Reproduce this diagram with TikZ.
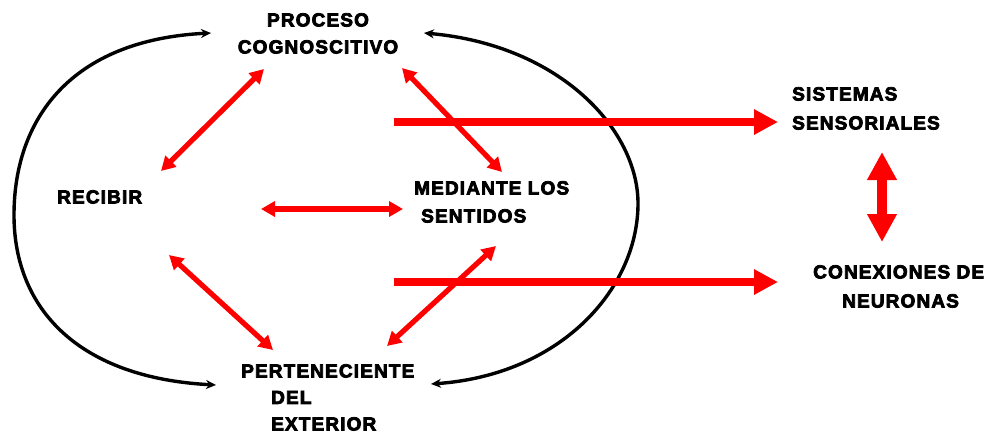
\documentclass[tikz,border=0pt]{standalone}
\usepackage{fontspec}
\newfontfamily\heavy{Liberation Sans Bold}[FakeBold=4,LetterSpace=6]
\usetikzlibrary{arrows.meta}
\definecolor{rojo}{RGB}{255,0,0}
\tikzset{
  lbl/.style={inner sep=0pt, font=\heavy\fontsize{19}{28}\selectfont, align=left, anchor=north west},
  arc/.style={line width=3.4pt, black, {Stealth[length=10pt,width=9pt]}-{Stealth[length=10pt,width=9pt]}},
  rel/.style={line width=5.2pt, rojo, {Triangle[length=14pt,width=15pt]}-{Triangle[length=14pt,width=15pt]}},
  big/.style={line width=7.5pt, rojo, -{Triangle[length=24pt,width=24pt]}},
  vert/.style={line width=10pt, rojo, {Triangle[length=28pt,width=28pt]}-{Triangle[length=28pt,width=28pt]}}
}
\begin{document}
\begin{tikzpicture}[x=1pt,y=-1pt]
\useasboundingbox (0,0) rectangle (998,434);
% text nodes
\node[lbl, align=center, anchor=north, font=\heavy\fontsize{19}{27}\selectfont] (proc) at (318,13) {PROCESO\\COGNOSCITIVO};
\node[lbl] (rec) at (57,190) {RECIBIR};
\node[lbl] (med) at (414,181) {MEDIANTE LOS\\\hspace*{7pt}SENTIDOS};
\node[lbl, font=\heavy\fontsize{19}{26.5}\selectfont] (pert) at (241,364) {PERTENECIENTE\\\hspace*{30pt}DEL\\\hspace*{30pt}EXTERIOR};
\node[lbl, font=\heavy\fontsize{19}{29}\selectfont] (sis) at (792,87) {SISTEMAS\\SENSORIALES};
\node[lbl, font=\heavy\fontsize{19}{29}\selectfont] (con) at (813,265) {CONEXIONES DE\\\hspace*{29pt}NEURONAS};
% connector end points
\coordinate (lt) at (211,33);
\coordinate (lb) at (216,385);
\coordinate (rt) at (424,33);
\coordinate (rb) at (431,384);
\coordinate (pr1) at (264,69);
\coordinate (rp1) at (161,171);
\coordinate (pm1) at (402,68);
\coordinate (mp1) at (502,172);
\coordinate (rm1) at (261,209);
\coordinate (mr1) at (403,209);
\coordinate (re1) at (169,255);
\coordinate (er1) at (273,350);
\coordinate (me1) at (496,246);
\coordinate (em1) at (387,346);
\coordinate (s1) at (394,122);
\coordinate (s2) at (778,122);
\coordinate (c1) at (394,282);
\coordinate (c2) at (778,282);
\coordinate (v1) at (882,152);
\coordinate (v2) at (882,242);
% black arcs
\draw[arc] (lt) .. controls (70,40) and (14,120) .. (14,215) .. controls (14,310) and (80,378) .. (lb);
\draw[arc] (rt) .. controls (560,45) and (639,130) .. (638,205) .. controls (637,290) and (560,375) .. (rb);
% red arrows
\draw[rel] (pr1) -- (rp1);
\draw[rel] (pm1) -- (mp1);
\draw[rel] (rm1) -- (mr1);
\draw[rel] (re1) -- (er1);
\draw[rel] (me1) -- (em1);
\draw[big] (s1) -- (s2);
\draw[big] (c1) -- (c2);
\draw[vert] (v1) -- (v2);
\end{tikzpicture}
\end{document}
